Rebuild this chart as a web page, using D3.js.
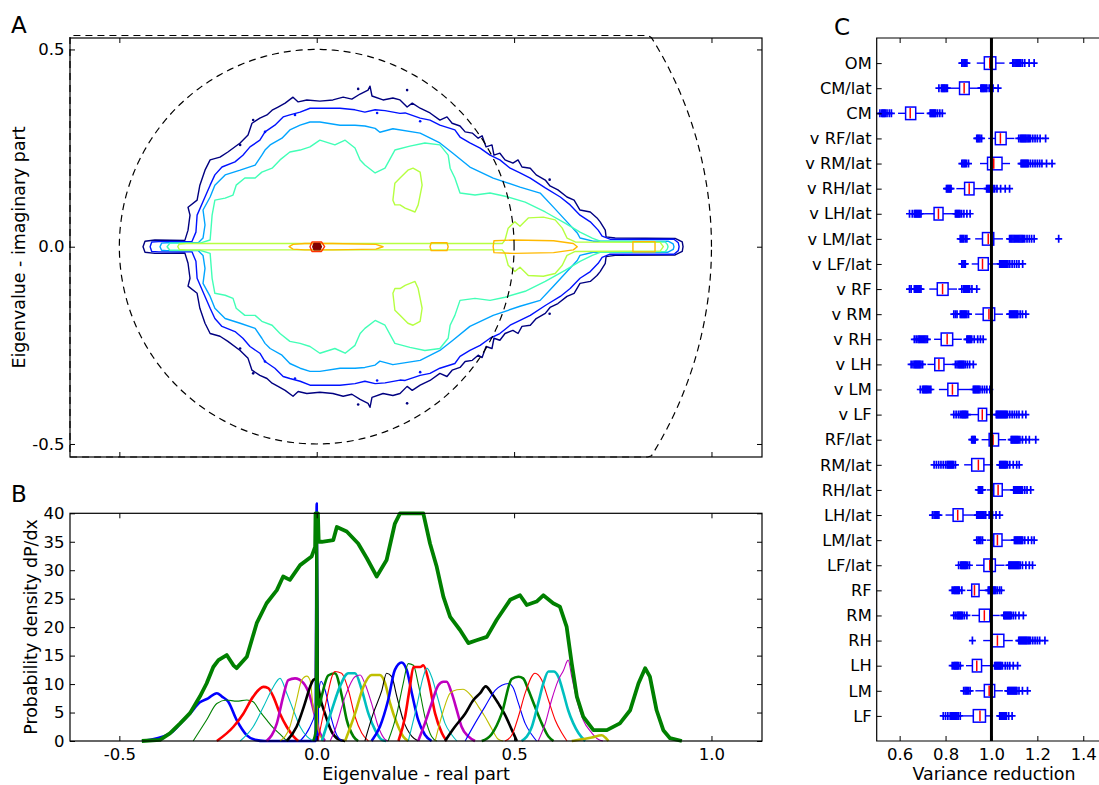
<!DOCTYPE html>
<html>
<head>
<meta charset="utf-8">
<script src="https://cdn.jsdelivr.net/npm/d3@7"></script>
<style>
  body { margin: 0; background: #fff; }
  svg { font-family: "DejaVu Sans", sans-serif; }
</style>
</head>
<body>
<svg id="fig" width="1099" height="785"></svg>
<script>
// ---------------- data ----------------
// Panel A: upper halves of the density contours (the lower half is the mirror image)
var lvl1Upper = [[-0.440,0],[-0.435,0.014],[-0.410,0.017],[-0.334,0.016],[-0.326,0.042],[-0.321,0.080],[-0.326,0.100],[-0.303,0.118],[-0.296,0.156],[-0.283,0.194],[-0.270,0.220],[-0.245,0.227],[-0.225,0.240],[-0.194,0.263],[-0.174,0.283],[-0.164,0.313],[-0.144,0.326],[-0.126,0.334],[-0.113,0.346],[-0.098,0.354],[-0.080,0.364],[-0.060,0.379],[-0.047,0.367],[-0.025,0.372],[0.008,0.369],[0.041,0.372],[0.067,0.379],[0.089,0.374],[0.110,0.387],[0.130,0.397],[0.135,0.407],[0.140,0.382],[0.168,0.372],[0.193,0.377],[0.211,0.372],[0.229,0.354],[0.242,0.364],[0.262,0.351],[0.287,0.339],[0.312,0.321],[0.330,0.329],[0.343,0.313],[0.363,0.306],[0.376,0.291],[0.394,0.288],[0.409,0.275],[0.419,0.281],[0.429,0.253],[0.444,0.258],[0.449,0.232],[0.464,0.237],[0.477,0.220],[0.497,0.212],[0.510,0.220],[0.520,0.202],[0.541,0.199],[0.556,0.182],[0.579,0.169],[0.591,0.154],[0.611,0.144],[0.634,0.126],[0.652,0.118],[0.667,0.093],[0.693,0.088],[0.710,0.073],[0.718,0.063],[0.731,0.042],[0.733,0.025],[0.756,0.022],[0.908,0.021],[0.926,0.012],[0.928,0]];
var lvl2Upper = [[-0.422,0],[-0.418,0.012],[-0.400,0.013],[-0.316,0.013],[-0.306,0.037],[-0.303,0.080],[-0.283,0.126],[-0.270,0.156],[-0.258,0.182],[-0.240,0.202],[-0.207,0.215],[-0.187,0.232],[-0.169,0.253],[-0.144,0.270],[-0.131,0.291],[-0.106,0.308],[-0.085,0.329],[-0.068,0.334],[-0.042,0.341],[-0.017,0.351],[0.008,0.351],[0.059,0.351],[0.097,0.347],[0.122,0.341],[0.148,0.347],[0.173,0.345],[0.211,0.338],[0.224,0.339],[0.262,0.326],[0.287,0.321],[0.312,0.308],[0.350,0.296],[0.363,0.278],[0.388,0.263],[0.414,0.250],[0.439,0.232],[0.464,0.220],[0.490,0.199],[0.515,0.187],[0.541,0.174],[0.579,0.149],[0.617,0.126],[0.642,0.106],[0.667,0.080],[0.693,0.063],[0.713,0.042],[0.723,0.027],[0.743,0.019],[0.905,0.019],[0.916,0.010],[0.918,0]];
var lvl3Upper = [[-0.397,0],[-0.393,0.009],[-0.380,0.010],[-0.300,0.010],[-0.288,0.022],[-0.283,0.055],[-0.288,0.093],[-0.270,0.126],[-0.258,0.156],[-0.232,0.182],[-0.194,0.194],[-0.156,0.207],[-0.139,0.232],[-0.131,0.245],[-0.118,0.258],[-0.088,0.275],[-0.068,0.296],[-0.042,0.308],[-0.017,0.316],[0.008,0.316],[0.059,0.308],[0.097,0.308],[0.122,0.306],[0.148,0.300],[0.160,0.290],[0.193,0.299],[0.262,0.288],[0.312,0.263],[0.345,0.237],[0.388,0.202],[0.447,0.174],[0.515,0.151],[0.566,0.136],[0.599,0.101],[0.634,0.063],[0.660,0.035],[0.667,0.022],[0.700,0.014],[0.890,0.014],[0.903,0.007],[0.905,0]];
var lvl4Upper = [[-0.379,0],[-0.372,0.009],[-0.296,0.009],[-0.270,0.017],[-0.265,0.080],[-0.258,0.118],[-0.232,0.123],[-0.212,0.131],[-0.204,0.156],[-0.182,0.174],[-0.156,0.174],[-0.139,0.189],[-0.113,0.199],[-0.093,0.220],[-0.068,0.240],[-0.042,0.245],[-0.017,0.253],[0.008,0.270],[0.046,0.258],[0.072,0.270],[0.097,0.250],[0.110,0.220],[0.122,0.207],[0.148,0.187],[0.173,0.199],[0.198,0.245],[0.236,0.255],[0.274,0.263],[0.312,0.258],[0.333,0.232],[0.338,0.199],[0.350,0.174],[0.363,0.136],[0.401,0.131],[0.439,0.136],[0.477,0.128],[0.528,0.113],[0.579,0.088],[0.629,0.060],[0.667,0.037],[0.698,0.022],[0.718,0.014],[0.883,0.012],[0.888,0.006],[0.890,0]];
var lvl5Upper = [[-0.352,0],[-0.348,0.007],[-0.330,0.008],[0.470,0.008],[0.477,0.017],[0.485,0.047],[0.502,0.063],[0.515,0.052],[0.536,0.073],[0.574,0.075],[0.604,0.068],[0.622,0.047],[0.634,0.022],[0.655,0.012],[0.870,0.011],[0.878,0]];
var lvl5Island = [[0.193,0.118],[0.198,0.161],[0.211,0.174],[0.231,0.194],[0.244,0.199],[0.262,0.189],[0.267,0.156],[0.262,0.131],[0.257,0.106],[0.249,0.088],[0.224,0.098],[0.211,0.106],[0.198,0.106]];
var lvl6UpperA = [[-0.070,0],[-0.060,0.006],[-0.030,0.008],[0.040,0.008],[0.150,0.006],[0.168,0]];
var lvl6UpperB = [[0.287,0],[0.290,0.010],[0.330,0.010],[0.333,0]];
var lvl6UpperC = [[0.447,0],[0.449,0.015],[0.500,0.017],[0.600,0.015],[0.650,0.008],[0.660,0]];
var lvl6UpperD = [[0.801,0],[0.801,0.013],[0.857,0.013],[0.857,0]];
var lvl7Upper = [[-0.017,0],[-0.012,0.012],[0.012,0.012],[0.020,0]];
var lvl8Upper = [[-0.010,0],[-0.007,0.008],[0.008,0.008],[0.012,0]];
// isolated specks near the outer outlines (upper half)
var lvl1Specks = [[-0.194,0.258],[-0.161,0.321],[0.105,0.400],[0.229,0.397],[0.590,0.170]];
var lvl2Specks = [[-0.131,0.291],[-0.055,0.334],[0.153,0.339],[0.262,0.318]];
var circleRadii = [0.5, 1.0];

// Panel B: density of each eigenvalue (ordered by real part) and the total
var componentCurves = [
  [[-0.443,0],[-0.372,1.3],[-0.346,3.0],[-0.321,4.8],[-0.296,6.8],[-0.275,7.5],[-0.253,8.4],[-0.240,7.8],[-0.224,6.9],[-0.203,3.7],[-0.177,1.0],[-0.156,0.2],[-0.131,0],[-0.003,0],[0,41.7],[0.003,0]],
  [[-0.313,0],[-0.279,3.7],[-0.253,6.6],[-0.228,7.2],[-0.203,7.0],[-0.177,7.2],[-0.161,6.9],[-0.144,5.2],[-0.127,3.7],[-0.110,2.3],[-0.093,1.2],[-0.076,0]],
  [[-0.253,0],[-0.211,2.5],[-0.186,4.8],[-0.161,7.8],[-0.135,9.5],[-0.123,9.3],[-0.110,7.8],[-0.093,4.8],[-0.076,2.5],[-0.059,0.8],[-0.047,0]],
  [[-0.194,0],[-0.161,2.5],[-0.135,6.0],[-0.110,9.5],[-0.093,11.0],[-0.076,8.4],[-0.059,5.4],[-0.042,2.5],[-0.025,0.8],[-0.009,0]],
  [[-0.127,0],[-0.101,3.1],[-0.085,7.8],[-0.072,10.7],[-0.055,11.0],[-0.034,10.2],[-0.017,7.8],[-0.004,4.3],[0.008,1.4],[0.021,0]],
  [[-0.093,0],[-0.068,2.5],[-0.051,7.2],[-0.038,10.7],[-0.025,11.4],[-0.017,10.7],[-0.009,6.0],[-0.002,4.0],[0,22],[0.002,4.0],[0.004,2.0],[0.017,0]],
  [[-0.076,0],[-0.051,2.5],[-0.030,6.6],[-0.017,9.5],[-0.009,10.7],[-0.002,11],[0,38],[0.002,11],[0.008,8],[0.021,4.8],[0.038,1.6],[0.055,0.3],[0.072,0]],
  [[-0.042,0],[-0.017,2.5],[-0.004,5.0],[0.003,8],[0.011,10.5],[0.021,9.0],[0.038,3.7],[0.051,1.0],[0.064,0]],
  [[-0.009,0],[-0.002,2],[0,40],[0.002,10],[0.006,6],[0.013,8],[0.029,11.5],[0.046,11.9],[0.064,7.8],[0.076,3.7],[0.093,0.8],[0.105,0]],
  [[0.003,0],[0.021,6],[0.046,12.2],[0.063,11.9],[0.080,9],[0.097,4.3],[0.114,1.4],[0.131,0]],
  [[0.013,0],[0.038,5.4],[0.059,9.6],[0.080,11.9],[0.097,11.9],[0.114,9],[0.131,4.8],[0.148,1.9],[0.165,0.2],[0.176,0]],
  [[0.034,0],[0.046,1.9],[0.072,7.8],[0.097,11.3],[0.110,11.6],[0.122,10.1],[0.139,6.6],[0.156,2.5],[0.173,0.3],[0.181,0]],
  [[0.072,0],[0.097,4.8],[0.118,9.5],[0.139,11.6],[0.160,11.6],[0.173,10.2],[0.186,6.6],[0.203,3.1],[0.219,0.8],[0.232,0]],
  [[0.122,0],[0.143,4.8],[0.165,8.9],[0.177,11.9],[0.190,11.3],[0.203,7.8],[0.219,3.7],[0.241,0.8],[0.257,0]],
  [[0.139,0],[0.160,2.5],[0.181,7.2],[0.198,12.5],[0.215,13.8],[0.228,12.5],[0.241,8.4],[0.257,3.7],[0.274,1.1],[0.291,0]],
  [[0.181,0],[0.203,4.8],[0.219,10.1],[0.232,13.6],[0.245,13.3],[0.257,10.1],[0.274,4.3],[0.291,0.8],[0.304,0]],
  [[0.207,0],[0.224,4.3],[0.236,9.5],[0.245,13.0],[0.262,13.0],[0.270,13.3],[0.283,10.7],[0.300,4.8],[0.317,1.4],[0.329,0]],
  [[0.232,0],[0.253,6.0],[0.270,11.3],[0.279,12.8],[0.291,11.3],[0.308,7.2],[0.325,3.1],[0.342,1.1],[0.355,0]],
  [[0.257,0],[0.274,3.1],[0.291,6.6],[0.308,9.8],[0.321,10.4],[0.329,10.4],[0.342,8.4],[0.355,5.4],[0.367,2.5],[0.384,0.8],[0.401,0]],
  [[0.300,0],[0.321,5.4],[0.338,8.4],[0.355,9.0],[0.371,9.1],[0.393,7.8],[0.410,6.0],[0.426,4.3],[0.443,2.2],[0.460,0.3],[0.472,0]],
  [[0.325,0],[0.350,2.5],[0.376,4.8],[0.397,7.2],[0.414,8.4],[0.428,9.6],[0.443,8.4],[0.460,6.6],[0.477,4.6],[0.494,2.0],[0.507,0]],
  [[0.376,0],[0.401,3.1],[0.426,6.0],[0.452,8.9],[0.469,9.8],[0.486,10.1],[0.498,9.3],[0.511,6.6],[0.528,3.1],[0.545,1.1],[0.557,0]],
  [[0.418,0],[0.443,1.2],[0.469,4.9],[0.494,10.9],[0.511,11.3],[0.523,11.0],[0.536,9.0],[0.553,6.0],[0.570,3.1],[0.587,0.8],[0.600,0]],
  [[0.477,0],[0.494,1.0],[0.511,4.3],[0.528,8.4],[0.553,11.9],[0.570,10.7],[0.587,7.2],[0.604,3.7],[0.621,1.4],[0.634,0]],
  [[0.519,0],[0.545,2.5],[0.561,6.6],[0.574,10.1],[0.587,12.2],[0.600,12.2],[0.612,11.3],[0.625,8.4],[0.637,5.4],[0.650,3.1],[0.663,1.4],[0.680,0]],
  [[0.561,0],[0.579,3.1],[0.595,7.2],[0.612,10.7],[0.625,12.4],[0.637,14.2],[0.646,11.3],[0.659,7.2],[0.675,3.7],[0.697,1.4],[0.713,0.3],[0.725,0]],
  [[0.646,0],[0.671,0.3],[0.697,0.6],[0.722,1.0],[0.731,0.6],[0.739,0]]
];
var totalX = [-0.443,-0.397,-0.372,-0.346,-0.321,-0.296,-0.279,-0.262,-0.249,-0.228,-0.211,-0.203,-0.177,-0.152,-0.127,-0.101,-0.085,-0.068,-0.042,-0.013,-0.004,-0.003,0.003,0.005,0.013,0.042,0.051,0.076,0.105,0.127,0.152,0.177,0.198,0.211,0.270,0.287,0.304,0.321,0.338,0.363,0.384,0.405,0.431,0.456,0.490,0.515,0.532,0.557,0.574,0.599,0.616,0.633,0.646,0.659,0.675,0.701,0.735,0.768,0.794,0.815,0.832,0.844,0.861,0.878,0.895,0.925];
var totalY = [0,0.2,1.35,3.1,4.9,7.8,10.1,13.0,14.2,15.1,13.3,12.8,14.8,20.7,24.2,26.5,28.9,28.3,30.9,32.4,34.1,40,40,35,35,35.3,37.6,36.8,34.7,32.1,28.9,31.8,38.2,40,40,34.7,30.6,25.3,21.8,19.5,17.2,17.7,18.3,21.3,24.8,25.6,23.9,24.5,25.6,24.2,23.6,20.1,13.6,7.8,4.3,1.9,1.9,3.1,5.4,10.1,12.8,11.3,5.4,1.9,0.5,0];

// Panel C: variance reduction box plots, top row first
var cLabels = ['OM','CM/lat','CM','v RF/lat','v RM/lat','v RH/lat','v LH/lat','v LM/lat','v LF/lat','v RF','v RM','v RH','v LH','v LM','v LF','RF/lat','RM/lat','RH/lat','LH/lat','LM/lat','LF/lat','RF','RM','RH','LH','LM','LF'];
var cWhiskLo = [0.936,0.820,0.593,0.986,0.950,0.847,0.707,0.929,0.914,0.729,0.929,0.750,0.721,0.771,0.905,0.957,0.881,0.979,0.800,0.979,0.933,0.893,0.914,0.964,0.889,0.930,0.879];
var cQ1 =      [0.969,0.861,0.626,1.017,0.983,0.883,0.750,0.961,0.943,0.764,0.964,0.781,0.753,0.810,0.943,0.990,0.914,1.010,0.833,1.010,0.967,0.914,0.947,1.000,0.917,0.969,0.921];
var cMedian =  [0.993,0.881,0.646,1.039,1.010,0.903,0.769,0.986,0.961,0.787,0.989,0.807,0.771,0.830,0.960,1.007,0.943,1.029,0.853,1.026,0.993,0.926,0.969,1.026,0.936,0.990,0.950];
var cQ3 =      [1.019,0.903,0.670,1.064,1.046,0.924,0.789,1.010,0.986,0.811,1.014,0.831,0.793,0.854,0.979,1.031,0.967,1.047,0.876,1.046,1.017,0.946,0.993,1.054,0.957,1.014,0.974];
var cWhiskHi = [1.057,0.950,0.707,1.100,1.081,0.964,0.829,1.050,1.021,0.850,1.050,0.871,0.829,0.907,1.007,1.064,1.007,1.086,0.921,1.090,1.057,0.979,1.036,1.093,1.011,1.050,1.007];
var cOutLo = [
  [0.871,0.876,0.881,0.886,0.893],
  [0.771,0.782,0.786,0.790,0.794,0.798,0.803,0.808],
  [0.514,0.522,0.526,0.530,0.534,0.538,0.545,0.555,0.564],
  [0.936,0.940,0.945,0.950,0.957],
  [0.871,0.876,0.881,0.886,0.891,0.900],
  [0.804,0.808,0.812,0.816,0.820,0.824],
  [0.643,0.655,0.664,0.668,0.672,0.676,0.680,0.684,0.688,0.693],
  [0.864,0.869,0.874,0.879,0.886,0.893],
  [0.871,0.876,0.881,0.886],
  [0.643,0.650,0.664,0.668,0.672,0.676,0.680,0.684,0.688,0.693],
  [0.836,0.843,0.850,0.864,0.868,0.872,0.876,0.880,0.884,0.888,0.893,0.900],
  [0.664,0.672,0.680,0.685,0.690,0.695,0.700,0.705,0.710,0.715,0.721],
  [0.650,0.658,0.664,0.668,0.672,0.676,0.680,0.684,0.688,0.693,0.700],
  [0.690,0.700,0.704,0.708,0.712,0.716,0.720,0.725,0.730,0.736],
  [0.836,0.846,0.856,0.864,0.870,0.874,0.878,0.882,0.886,0.890,0.896],
  [0.914,0.918,0.922,0.926,0.929],
  [0.750,0.760,0.770,0.780,0.790,0.800,0.807,0.811,0.815,0.819,0.823,0.827,0.831,0.835,0.843],
  [0.943,0.948,0.953,0.957,0.961],
  [0.743,0.750,0.755,0.760,0.765,0.771],
  [0.936,0.942,0.948,0.954,0.961],
  [0.857,0.866,0.870,0.874,0.878,0.882,0.886,0.890,0.896,0.904],
  [0.829,0.836,0.840,0.844,0.848,0.852,0.856,0.860,0.871],
  [0.836,0.843,0.850,0.854,0.858,0.862,0.866,0.870,0.874,0.882,0.893],
  [0.917],
  [0.829,0.836,0.840,0.844,0.848,0.852,0.856,0.864],
  [0.879,0.885,0.890,0.895,0.900,0.907],
  [0.790,0.800,0.810,0.820,0.826,0.830,0.834,0.838,0.842,0.846,0.850,0.855,0.864]
];
var cOutHi = [
  [1.093,1.098,1.103,1.108,1.113,1.118,1.123,1.128,1.135,1.145,1.164,1.186],
  [0.954,0.958,0.962,0.966,0.970,0.975,0.980,0.990,1.000,1.007,1.029],
  [0.733,0.737,0.741,0.745,0.749,0.753,0.757,0.765,0.775,0.786],
  [1.119,1.126,1.130,1.134,1.138,1.142,1.146,1.150,1.155,1.160,1.165,1.170,1.180,1.190,1.200,1.212,1.236],
  [1.129,1.133,1.137,1.141,1.145,1.149,1.153,1.157,1.161,1.170,1.180,1.190,1.200,1.210,1.220,1.240,1.264],
  [0.979,0.983,0.987,0.991,0.995,0.999,1.003,1.007,1.014,1.024,1.040,1.060,1.079],
  [0.843,0.847,0.851,0.855,0.859,0.863,0.870,0.880,0.893,0.907],
  [1.079,1.084,1.089,1.094,1.099,1.104,1.109,1.114,1.119,1.124,1.129,1.134,1.139,1.145,1.155,1.165,1.175,1.186,1.293],
  [1.036,1.040,1.044,1.048,1.052,1.056,1.060,1.064,1.068,1.072,1.080,1.090,1.100,1.110,1.120,1.136],
  [0.871,0.879,0.883,0.887,0.891,0.895,0.899,0.905,0.915,0.936],
  [1.079,1.083,1.087,1.091,1.095,1.099,1.103,1.107,1.111,1.115,1.125,1.135,1.150],
  [0.893,0.897,0.901,0.905,0.909,0.914,0.925,0.940,0.952,0.964],
  [0.843,0.850,0.856,0.860,0.864,0.868,0.872,0.876,0.880,0.886,0.895,0.905,0.921],
  [0.921,0.925,0.929,0.933,0.937,0.941,0.945,0.950,0.960,0.970,0.980,0.993],
  [1.021,1.025,1.029,1.033,1.037,1.041,1.045,1.049,1.053,1.057,1.061,1.065,1.070,1.080,1.090,1.100,1.110,1.120,1.135,1.150],
  [1.086,1.090,1.094,1.098,1.102,1.106,1.110,1.114,1.118,1.124,1.135,1.150,1.165,1.193],
  [1.036,1.040,1.044,1.048,1.052,1.056,1.060,1.064,1.070,1.080,1.095,1.110,1.121],
  [1.097,1.101,1.105,1.109,1.113,1.117,1.121,1.125,1.130,1.135,1.145,1.155,1.171],
  [0.936,0.940,0.944,0.948,0.952,0.956,0.960,0.964,0.968,0.975,0.990,1.005,1.020,1.036],
  [1.100,1.104,1.108,1.112,1.116,1.120,1.124,1.128,1.132,1.136,1.145,1.160,1.175,1.186],
  [1.076,1.080,1.084,1.088,1.092,1.096,1.100,1.104,1.108,1.112,1.116,1.120,1.125,1.135,1.150,1.165,1.179],
  [0.986,0.990,0.994,0.998,1.002,1.006,1.010,1.014,1.018,1.025,1.035,1.043],
  [1.054,1.058,1.062,1.066,1.070,1.074,1.078,1.082,1.086,1.095,1.105,1.120,1.139],
  [1.119,1.123,1.127,1.131,1.135,1.139,1.143,1.147,1.151,1.155,1.160,1.165,1.170,1.180,1.190,1.200,1.210,1.233],
  [1.014,1.018,1.022,1.026,1.030,1.034,1.038,1.042,1.048,1.060,1.070,1.080,1.095,1.114],
  [1.071,1.075,1.079,1.083,1.087,1.091,1.095,1.099,1.103,1.107,1.111,1.120,1.135,1.157],
  [1.036,1.040,1.044,1.048,1.052,1.056,1.060,1.065,1.075,1.090]
];

// tick values
var xTicksAB = [-0.5, 0.0, 0.5, 1.0];
var yTicksA = [-0.5, 0.0, 0.5];
var yTicksB = [0, 5, 10, 15, 20, 25, 30, 35, 40];
var xTicksC = [0.6, 0.8, 1.0, 1.2, 1.4];

// ---------------- drawing ----------------
var levelColors = ['#000080', '#0012ff', '#00a4ff', '#41ffb6', '#b6ff41', '#ffb900', '#ff3200', '#800000'];
var cycle = ['#0000ff', '#008000', '#ff0000', '#00bfbf', '#bf00bf', '#bfbf00', '#000000'];

var svg = d3.select('#fig');

// scales
var xA = d3.scaleLinear().domain([-0.625, 1.128]).range([70, 762]);
var yA = d3.scaleLinear().domain([-0.533, 0.529]).range([457, 38]);
var yB = d3.scaleLinear().domain([0, 40]).range([741, 513.3]);
var xC = d3.scaleLinear().domain([0.5, 1.5]).range([876.7, 1106.2]);
var yC = d3.scaleLinear().domain([0, 28]).range([741, 38]);

function fmt1(d) { return d.toFixed(1); }

function styleAxis(g, size) {
    g.attr('font-family', null).attr('font-size', null);
    g.select('.domain').remove();
    g.selectAll('.tick line').attr('stroke', '#000').attr('stroke-width', 1);
    g.selectAll('.tick text').attr('fill', '#000').style('font-size', size + 'px');
}

// ---------- panel A ----------
var gA = svg.append('g');
gA.append('clipPath').attr('id', 'clipA')
    .append('rect').attr('x', 70).attr('y', 38).attr('width', 692).attr('height', 419);

var plotA = gA.append('g').attr('clip-path', 'url(#clipA)');

function mirrorClosed(upper) {
    var lower = upper.slice(1, -1).reverse().map(function (p) { return [p[0], -p[1]]; });
    return upper.concat(lower);
}
function flip(loop) {
    return loop.map(function (p) { return [p[0], -p[1]]; });
}

var contourLine = d3.line()
    .x(function (d) { return xA(d[0]); })
    .y(function (d) { return yA(d[1]); })
    .curve(d3.curveLinearClosed);

var contours = [
    { level: 0, pts: mirrorClosed(lvl1Upper) },
    { level: 1, pts: mirrorClosed(lvl2Upper) },
    { level: 2, pts: mirrorClosed(lvl3Upper) },
    { level: 3, pts: mirrorClosed(lvl4Upper) },
    { level: 4, pts: mirrorClosed(lvl5Upper) },
    { level: 4, pts: lvl5Island },
    { level: 4, pts: flip(lvl5Island) },
    { level: 5, pts: mirrorClosed(lvl6UpperA) },
    { level: 5, pts: mirrorClosed(lvl6UpperB) },
    { level: 5, pts: mirrorClosed(lvl6UpperC) },
    { level: 5, pts: mirrorClosed(lvl6UpperD) },
    { level: 6, pts: mirrorClosed(lvl7Upper) },
    { level: 7, pts: mirrorClosed(lvl8Upper) }
];

plotA.selectAll('path.contour')
    .data(contours)
    .enter()
    .append('path')
    .attr('class', 'contour')
    .attr('d', function (d) { return contourLine(d.pts); })
    .attr('fill', function (d) { return d.level === 7 ? levelColors[7] : 'none'; })
    .attr('stroke', function (d) { return levelColors[d.level]; })
    .attr('stroke-width', 1.4)
    .attr('stroke-linejoin', 'round');

// tiny isolated contour loops, both halves
var specks = [];
lvl1Specks.forEach(function (p) { specks.push({ level: 0, p: p }, { level: 0, p: [p[0], -p[1]] }); });
lvl2Specks.forEach(function (p) { specks.push({ level: 1, p: p }, { level: 1, p: [p[0], -p[1]] }); });
plotA.selectAll('circle.speck')
    .data(specks)
    .enter()
    .append('circle')
    .attr('class', 'speck')
    .attr('cx', function (d) { return xA(d.p[0]); })
    .attr('cy', function (d) { return yA(d.p[1]); })
    .attr('r', 1.3)
    .attr('fill', function (d) { return levelColors[d.level]; });

// dashed reference circles (the outer one is pinned to the plot edges)
var angles = d3.range(0, 361, 1);
circleRadii.forEach(function (r) {
    var pts = angles.map(function (a) {
        var t = a * Math.PI / 180;
        var px = xA(r * Math.cos(t)), py = yA(r * Math.sin(t));
        return [Math.max(70, Math.min(762, px)), Math.max(35.5, Math.min(457, py))];
    });
    gA.append('path')
        .attr('d', d3.line()(pts))
        .attr('fill', 'none')
        .attr('stroke', '#000')
        .attr('stroke-width', 1.2)
        .attr('stroke-dasharray', '7,5');
});

gA.append('rect').attr('x', 70).attr('y', 38).attr('width', 692).attr('height', 419)
    .attr('fill', 'none').attr('stroke', '#000').attr('stroke-width', 1.2);

styleAxis(gA.append('g').attr('transform', 'translate(0,457)')
    .call(d3.axisBottom(xA).tickValues(xTicksAB).tickSize(-5).tickFormat('')), 16.5);
styleAxis(gA.append('g').attr('transform', 'translate(0,38)')
    .call(d3.axisTop(xA).tickValues(xTicksAB).tickSize(-5).tickFormat('')), 16.5);
styleAxis(gA.append('g').attr('transform', 'translate(70,0)')
    .call(d3.axisLeft(yA).tickValues(yTicksA).tickSize(-5).tickPadding(5.5).tickFormat(fmt1)), 16.5);
styleAxis(gA.append('g').attr('transform', 'translate(762,0)')
    .call(d3.axisRight(yA).tickValues(yTicksA).tickSize(-5).tickFormat('')), 16.5);

gA.append('text')
    .attr('transform', 'translate(24.5,247.5) rotate(-90)')
    .attr('text-anchor', 'middle')
    .style('font-size', '17.4px')
    .text('Eigenvalue - imaginary part');

// ---------- panel B ----------
var gB = svg.append('g');

var densLine = d3.line()
    .x(function (d) { return xA(d[0]); })
    .y(function (d) { return yB(d[1]); })
    .curve(d3.curveMonotoneX);

gB.selectAll('path.comp')
    .data(componentCurves)
    .enter()
    .append('path')
    .attr('class', 'comp')
    .attr('d', densLine)
    .attr('fill', 'none')
    .attr('stroke', function (d, i) { return cycle[i % 7]; })
    .attr('stroke-width', function (d, i) { return i % 2 === 0 ? 2.6 : 1.1; })
    .attr('stroke-linejoin', 'round');

var totalPts = totalX.map(function (x, i) { return [x, totalY[i]]; });
gB.append('path')
    .attr('d', d3.line()
        .x(function (d) { return xA(d[0]); })
        .y(function (d) { return yB(d[1]); })(totalPts))
    .attr('fill', 'none')
    .attr('stroke', '#008000')
    .attr('stroke-width', 3.8)
    .attr('stroke-linejoin', 'round');

gB.append('rect').attr('x', 70).attr('y', 513.3).attr('width', 692).attr('height', 227.7)
    .attr('fill', 'none').attr('stroke', '#000').attr('stroke-width', 1.2);

styleAxis(gB.append('g').attr('transform', 'translate(0,741)')
    .call(d3.axisBottom(xA).tickValues(xTicksAB).tickSize(-5).tickPadding(7).tickFormat(fmt1)), 16.5);
styleAxis(gB.append('g').attr('transform', 'translate(0,513.3)')
    .call(d3.axisTop(xA).tickValues(xTicksAB).tickSize(-5).tickFormat('')), 16.5);
styleAxis(gB.append('g').attr('transform', 'translate(70,0)')
    .call(d3.axisLeft(yB).tickValues(yTicksB).tickSize(-5).tickPadding(5.5).tickFormat(d3.format('d'))), 16.5);
styleAxis(gB.append('g').attr('transform', 'translate(762,0)')
    .call(d3.axisRight(yB).tickValues(yTicksB).tickSize(-5).tickFormat('')), 16.5);

gB.append('text')
    .attr('transform', 'translate(37,627) rotate(-90)')
    .attr('text-anchor', 'middle')
    .style('font-size', '17.4px')
    .text('Probability density dP/dx');

gB.append('text')
    .attr('x', 416).attr('y', 780)
    .attr('text-anchor', 'middle')
    .style('font-size', '17.4px')
    .text('Eigenvalue - real part');

// ---------- panel C ----------
var gC = svg.append('g');
var rowPos = function (i) { return cLabels.length - i; };
var half = 0.25;

cLabels.forEach(function (lab, i) {
    var yc = yC(rowPos(i));
    var y0 = yC(rowPos(i) + half), y1 = yC(rowPos(i) - half);
    var row = gC.append('g');

    // whiskers
    row.append('line').attr('x1', xC(cWhiskLo[i])).attr('x2', xC(cQ1[i]))
        .attr('y1', yc).attr('y2', yc).attr('stroke', '#0000ff').attr('stroke-width', 1.4);
    row.append('line').attr('x1', xC(cQ3[i])).attr('x2', xC(cWhiskHi[i]))
        .attr('y1', yc).attr('y2', yc).attr('stroke', '#0000ff').attr('stroke-width', 1.4);

    // box
    row.append('rect')
        .attr('x', xC(cQ1[i])).attr('y', y0)
        .attr('width', xC(cQ3[i]) - xC(cQ1[i])).attr('height', y1 - y0)
        .attr('fill', 'none').attr('stroke', '#0000ff').attr('stroke-width', 1.5);

    // median
    row.append('line').attr('x1', xC(cMedian[i])).attr('x2', xC(cMedian[i]))
        .attr('y1', y0 + 1).attr('y2', y1 - 1).attr('stroke', '#ff0000').attr('stroke-width', 1.5);

    // fliers
    var fl = cOutLo[i].concat(cOutHi[i]);
    row.selectAll('path.flier')
        .data(fl)
        .enter()
        .append('path')
        .attr('class', 'flier')
        .attr('d', function (v) {
            var x = xC(v);
            return 'M' + (x - 3.5) + ',' + yc + 'H' + (x + 3.5) + 'M' + x + ',' + (yc - 4) + 'V' + (yc + 4);
        })
        .attr('stroke', '#0000ff')
        .attr('stroke-width', 1.7)
        .attr('fill', 'none');
});

// reference line at 1.0
gC.append('line')
    .attr('x1', xC(1)).attr('x2', xC(1)).attr('y1', 38).attr('y2', 741)
    .attr('stroke', '#000').attr('stroke-width', 3);

// frame (right side runs past the figure edge)
gC.append('path')
    .attr('d', 'M1099,38H876.7V741H1099')
    .attr('fill', 'none').attr('stroke', '#000').attr('stroke-width', 1.2);

styleAxis(gC.append('g').attr('transform', 'translate(0,741)')
    .call(d3.axisBottom(xC).tickValues(xTicksC).tickSize(-5).tickPadding(7).tickFormat(fmt1)), 16.5);
styleAxis(gC.append('g').attr('transform', 'translate(0,38)')
    .call(d3.axisTop(xC).tickValues(xTicksC).tickSize(-5).tickFormat('')), 16.5);
styleAxis(gC.append('g').attr('transform', 'translate(876.7,0)')
    .call(d3.axisLeft(yC).tickValues(d3.range(1, cLabels.length + 1)).tickSize(-5).tickPadding(5)
        .tickFormat(function (p) { return cLabels[cLabels.length - p]; })), 16.3);

gC.append('text')
    .attr('x', 994).attr('y', 780)
    .attr('text-anchor', 'middle')
    .style('font-size', '17.4px')
    .text('Variance reduction');

// panel letters
svg.append('text').attr('x', 11).attr('y', 33.3).style('font-size', '23px').text('A');
svg.append('text').attr('x', 11).attr('y', 501.7).style('font-size', '23px').text('B');
svg.append('text').attr('x', 834).attr('y', 35).style('font-size', '23px').text('C');
</script>
</body>
</html>
